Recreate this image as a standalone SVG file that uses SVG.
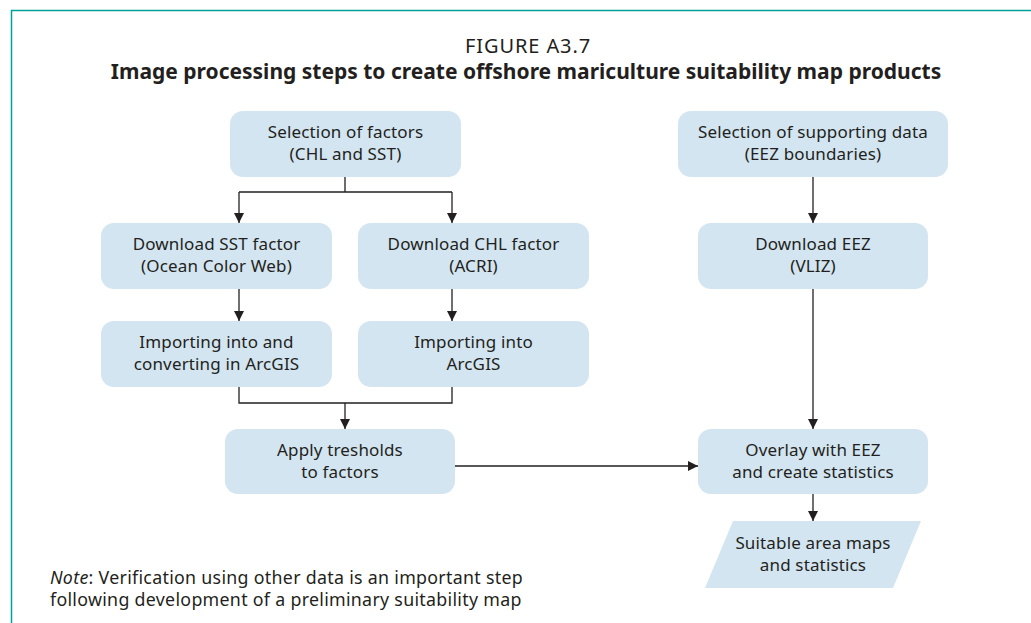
<svg xmlns="http://www.w3.org/2000/svg" width="1031" height="623" viewBox="0 0 1031 623">
  <defs>
    <marker id="arrow" viewBox="0 0 10 10" refX="10" refY="5" markerWidth="10" markerHeight="10" markerUnits="userSpaceOnUse" orient="auto">
      <path d="M0,0 L10,5 L0,10 Z" fill="#231f20"/>
    </marker>
    <style>
      .box { fill: #d3e5f0; }
      .lbl { font-family: "Noto Sans", "Open Sans", sans-serif; font-size: 17px; fill: #231f20; text-anchor: middle; letter-spacing: 0.15px; }
      .wire { fill: none; stroke: #231f20; stroke-width: 1.3; }
      .title { font-family: "Noto Sans", "Open Sans", sans-serif; fill: #231f20; text-anchor: middle; }
      .note { font-family: "Noto Sans", "Open Sans", sans-serif; font-size: 17.8px; fill: #231f20; letter-spacing: 0.3px; }
    </style>
  </defs>
  <rect width="1031" height="623" fill="#ffffff"/>
  <!-- frame -->
  <path d="M11.5,623 V10.5 H1031" fill="none" stroke="#00a19a" stroke-width="1.5"/>

  <text class="title" x="528" y="53" font-size="20" letter-spacing="0.9">FIGURE A3.7</text>
  <text class="title" x="526" y="79" font-size="21" font-weight="bold">Image processing steps to create offshore mariculture suitability map products</text>

  <g id="connectors">
    <path class="wire" d="M345,177 V192 M239,192 H452"/>
    <path class="wire" d="M239,192 V223" marker-end="url(#arrow)"/>
    <path class="wire" d="M452,192 V223" marker-end="url(#arrow)"/>
    <path class="wire" d="M813,177 V223" marker-end="url(#arrow)"/>
    <path class="wire" d="M239,289 V321" marker-end="url(#arrow)"/>
    <path class="wire" d="M452,289 V321" marker-end="url(#arrow)"/>
    <path class="wire" d="M239,386 V403 H452 V386"/>
    <path class="wire" d="M345,403 V429" marker-end="url(#arrow)"/>
    <path class="wire" d="M813,289 V429" marker-end="url(#arrow)"/>
    <path class="wire" d="M455,466 H698" marker-end="url(#arrow)"/>
    <path class="wire" d="M813,494 V521" marker-end="url(#arrow)"/>
  </g>

  <g id="select-factors">
    <rect class="box" x="230" y="111" width="231" height="66" rx="13"/>
    <text class="lbl" x="345.5" y="138">Selection of factors</text>
    <text class="lbl" x="345.5" y="160">(CHL and SST)</text>
  </g>
  <g id="select-supporting">
    <rect class="box" x="678" y="111" width="270" height="66" rx="13"/>
    <text class="lbl" x="813" y="138">Selection of supporting data</text>
    <text class="lbl" x="813" y="160">(EEZ boundaries)</text>
  </g>
  <g id="download-sst">
    <rect class="box" x="101" y="223" width="231" height="66" rx="13"/>
    <text class="lbl" x="216.5" y="250">Download SST factor</text>
    <text class="lbl" x="216.5" y="272">(Ocean Color Web)</text>
  </g>
  <g id="download-chl">
    <rect class="box" x="358" y="223" width="231" height="66" rx="13"/>
    <text class="lbl" x="473.5" y="250">Download CHL factor</text>
    <text class="lbl" x="473.5" y="272">(ACRI)</text>
  </g>
  <g id="download-eez">
    <rect class="box" x="698" y="223" width="230" height="66" rx="13"/>
    <text class="lbl" x="813" y="250">Download EEZ</text>
    <text class="lbl" x="813" y="272">(VLIZ)</text>
  </g>
  <g id="import-sst">
    <rect class="box" x="101" y="321" width="231" height="66" rx="13"/>
    <text class="lbl" x="216.5" y="348">Importing into and</text>
    <text class="lbl" x="216.5" y="370">converting in ArcGIS</text>
  </g>
  <g id="import-chl">
    <rect class="box" x="358" y="321" width="231" height="66" rx="13"/>
    <text class="lbl" x="473.5" y="348">Importing into</text>
    <text class="lbl" x="473.5" y="370">ArcGIS</text>
  </g>
  <g id="apply-thresholds">
    <rect class="box" x="225" y="429" width="230" height="65" rx="13"/>
    <text class="lbl" x="340" y="456">Apply tresholds</text>
    <text class="lbl" x="340" y="478">to factors</text>
  </g>
  <g id="overlay-eez">
    <rect class="box" x="698" y="429" width="230" height="65" rx="13"/>
    <text class="lbl" x="813" y="456">Overlay with EEZ</text>
    <text class="lbl" x="813" y="478">and create statistics</text>
  </g>
  <g id="output-maps">
    <polygon class="box" points="733,521 921,521 893,588 705,588"/>
    <text class="lbl" x="813" y="549">Suitable area maps</text>
    <text class="lbl" x="813" y="571">and statistics</text>
  </g>

  <g id="note">
    <text class="note" x="50" y="584"><tspan font-style="italic">Note</tspan>: Verification using other data is an important step</text>
    <text class="note" x="50" y="606">following development of a preliminary suitability map</text>
  </g>
</svg>
